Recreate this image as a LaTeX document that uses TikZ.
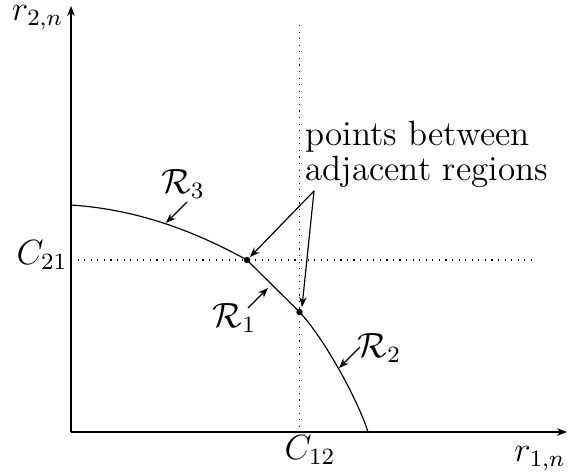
\documentclass[tikz,border=0pt]{standalone}
\usetikzlibrary{arrows.meta}
\begin{document}
\begin{tikzpicture}[x=0.3425pt,y=-0.3425pt,
  lbl/.style={inner sep=0pt, font=\large},
  arr/.style={-{Stealth[length=3.4pt,width=2.6pt]}, line width=0.4pt},
  guide/.style={dash pattern=on 0.4pt off 1.85pt, line width=0.4pt},
  dotpt/.style={circle, fill=black, inner sep=0pt, minimum size=2.2pt}]
\useasboundingbox (0,0) rectangle (568,475);
% coordinates
\coordinate (O) at (71,432);
\coordinate (Ytop) at (71,6);
\coordinate (Xend) at (567,432);
\coordinate (S) at (71,205);
\coordinate (E) at (368,432);
\coordinate (HL) at (71,260);
\coordinate (HR) at (533,260);
\coordinate (VT) at (299.5,25);
\coordinate (VB) at (299.5,432);
\node[dotpt] (A) at (247,260) {};
\node[dotpt] (B) at (299.5,312) {};
% guides
\draw[guide] (HL) -- (HR);
\draw[guide] (VT) -- (VB);
% axes
\draw[arr] (O) -- (Ytop);
\draw[arr] (O) -- (Xend);
% curve
\draw[line width=0.4pt] (S) .. controls (131,209) and (187,227) .. (A.center) -- (B.center) .. controls (324,338) and (358,400) .. (E);
% labels
\node[lbl] (r2) at (37.5,18) {$r_{2,n}$};
\node[lbl] (r1) at (540,459) {$r_{1,n}$};
\node[lbl] (c21) at (42,255) {$C_{21}$};
\node[lbl] (c12) at (310,450) {$C_{12}$};
\node[lbl] (R3) at (183,184) {$\mathcal{R}_3$};
\node[lbl] (R1) at (234.5,318) {$\mathcal{R}_1$};
\node[lbl] (R2) at (379.5,348) {$\mathcal{R}_2$};
\node[inner sep=0pt, anchor=north west, align=left, font=\fontsize{12}{12}\selectfont] (txt) at (305,121) {points between\\adjacent regions};
% region arrows
\coordinate (R3s) at (187,202); \coordinate (R3e) at (166,223);
\coordinate (R1s) at (248,308); \coordinate (R1e) at (268,288);
\coordinate (R2s) at (360,347); \coordinate (R2e) at (339,368);
\draw[arr] (R3s) -- (R3e);
\draw[arr] (R1s) -- (R1e);
\draw[arr] (R2s) -- (R2e);
% callout arrows
\coordinate (T) at (314,191);
\coordinate (Ta) at (250,257);
\coordinate (Tb) at (302,307);
\draw[arr] (T) -- (Ta);
\draw[arr] (T) -- (Tb);
\end{tikzpicture}
\end{document}
